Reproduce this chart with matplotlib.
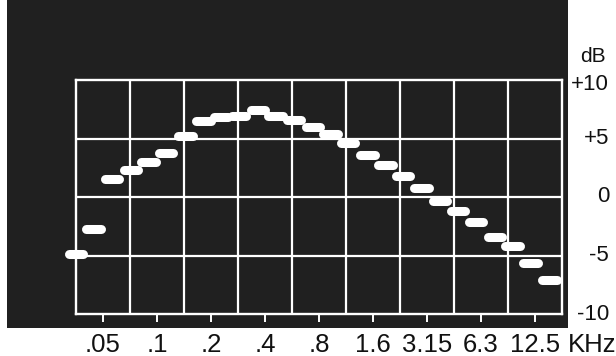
import numpy as np
import matplotlib.pyplot as plt
from matplotlib import transforms

# 1/3 octave band centres (Hz) and the levels (dB)
freqs = [40, 50, 63, 80, 100, 125, 160, 200, 250, 315, 400, 500, 630, 800,
         1000, 1250, 1600, 2000, 2500, 3150, 4000, 5000, 6300, 8000, 10000,
         12500, 16000]
levels = [-4.9, -2.7, 1.5, 2.3, 3.0, 3.8, 5.2, 6.5, 6.8, 6.9, 7.4, 6.9, 6.6,
          6.0, 5.4, 4.6, 3.6, 2.7, 1.8, 0.8, -0.3, -1.2, -2.1, -3.4, -4.2,
          -5.6, -7.1]
freq_labels = ['.05', '.1', '.2', '.4', '.8', '1.6', '3.15', '6.3', '12.5']
db_ticks = [10, 5, 0, -5, -10]
db_labels = ['+10', '+5', '0', '-5', '-10']

W, H = 616, 356
screen = '#202020'
fnt = ['Liberation Sans Narrow', 'Liberation Sans', 'DejaVu Sans']

fig = plt.figure(figsize=(W / 100, H / 100), dpi=100)
fig.patch.set_facecolor('white')
# the dark screen of the analyser
fig.add_artist(plt.Rectangle((7 / W, 28 / H), 561 / W, 328 / H,
                             transform=fig.transFigure, facecolor=screen,
                             edgecolor='none', zorder=0))

ax = fig.add_axes([76 / W, 42 / H, 486 / W, 234 / H])
ax.set_facecolor('none')
ax.set_xlim(0, 9)
ax.set_ylim(-10, 10)
for s in ax.spines.values():
    s.set_color('white')
    s.set_linewidth(1.7)

# graticule
for k in range(1, 9):
    ax.axvline(k, color='white', lw=1.6, zorder=1)
for v in [5, 0, -5]:
    ax.axhline(v, color='white', lw=1.6, zorder=1)

ax.set_xticks(np.arange(9) + 0.5)
ax.set_xticklabels([])
ax.set_yticks([])
ax.tick_params(axis='x', direction='out', length=5.8, width=1.4, color='white')

# band levels as short bright dashes (the trace runs a touch wider than the grid)
x = np.log2(np.array(freqs) / freqs[0]) * 1.015
ax.hlines(levels, x - 0.135, x + 0.135, colors='white', linewidth=6.5,
          capstyle='round', zorder=3, clip_on=False)

# frequency labels under the screen
tx = transforms.blended_transform_factory(ax.transData, fig.transFigure)
for k, lab in enumerate(freq_labels):
    ax.text(k + 0.5, 4 / H, lab, transform=tx, ha='center', va='baseline',
            fontsize=18.5, family=fnt, color='#111111')
fig.text(592 / W, 4 / H, 'KHz', ha='center', va='baseline',
         fontsize=18.5, family=fnt, color='#111111')

# dB scale on the right
ty = transforms.blended_transform_factory(fig.transFigure, ax.transData)
for v, lab in zip(db_ticks, db_labels):
    yy = v - 0.4 if v == 10 else v
    ax.text(609 / W, yy, lab, transform=ty, ha='right', va='center',
            fontsize=16, family=fnt, color='#111111')
ax.text(606 / W, 12.0, 'dB', transform=ty, ha='right', va='center',
        fontsize=15, family=fnt, color='#111111')

plt.savefig('out.png', dpi=100)
